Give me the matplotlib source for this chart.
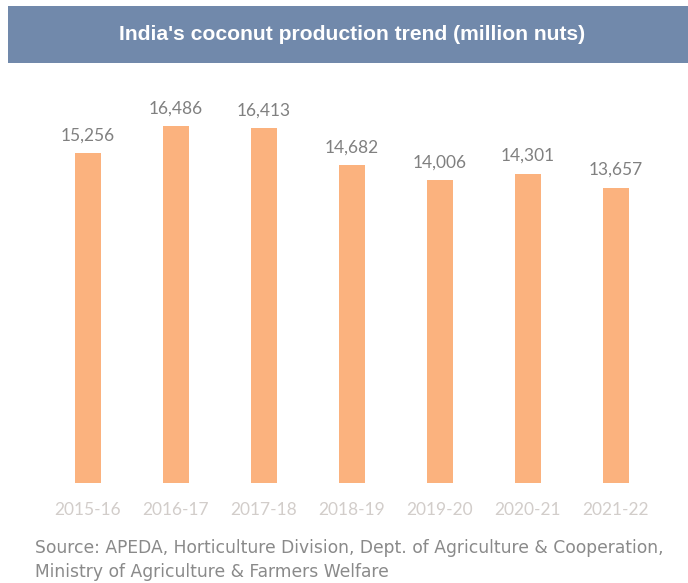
import matplotlib.pyplot as plt
from matplotlib.patches import Rectangle

# Coconut production, million nuts
years = ['2015-16', '2016-17', '2017-18', '2018-19', '2019-20', '2020-21', '2021-22']
production = [15256, 16486, 16413, 14682, 14006, 14301, 13657]

title = "India's coconut production trend (million nuts)"
source = ("Source: APEDA, Horticulture Division, Dept. of Agriculture & Cooperation,\n"
          "Ministry of Agriculture & Farmers Welfare")

fig = plt.figure(figsize=(6.88, 5.83), dpi=100)
fig.patch.set_facecolor('white')

# Title banner
fig.patches.append(Rectangle((0.0116, 0.892), 1.0, 0.0977, transform=fig.transFigure,
                             facecolor='#7189ab', edgecolor='none'))
fig.text(0.512, 0.941, title, color='white', fontsize=15.2, fontweight='bold',
         family='Liberation Sans', ha='center', va='center')

ax = fig.add_axes([0.064, 0.1715, 0.895, 0.668])
x = range(len(years))
bars = ax.bar(x, production, width=0.3, color='#fbb27e')
ax.set_xlim(-0.5, 6.5)
ax.set_ylim(0, 18000)

for xi, v in zip(x, production):
    ax.annotate(f'{v:,}', (xi, v), xytext=(0, 7), textcoords='offset points',
                ha='center', va='bottom', fontsize=12.5, color='#808080', family='Lato')

ax.set_xticks(list(x))
ax.set_xticklabels(years, fontsize=12.5, color='#d2cdca', family='Lato')
ax.tick_params(axis='x', length=0, pad=14)
ax.set_yticks([])
for s in ax.spines.values():
    s.set_visible(False)

fig.text(0.051, 0.0395, source, fontsize=12.3, color='#8a8a8a', family='DejaVu Sans',
         ha='left', va='center', linespacing=1.4)

fig.savefig('out.png', dpi=100)
